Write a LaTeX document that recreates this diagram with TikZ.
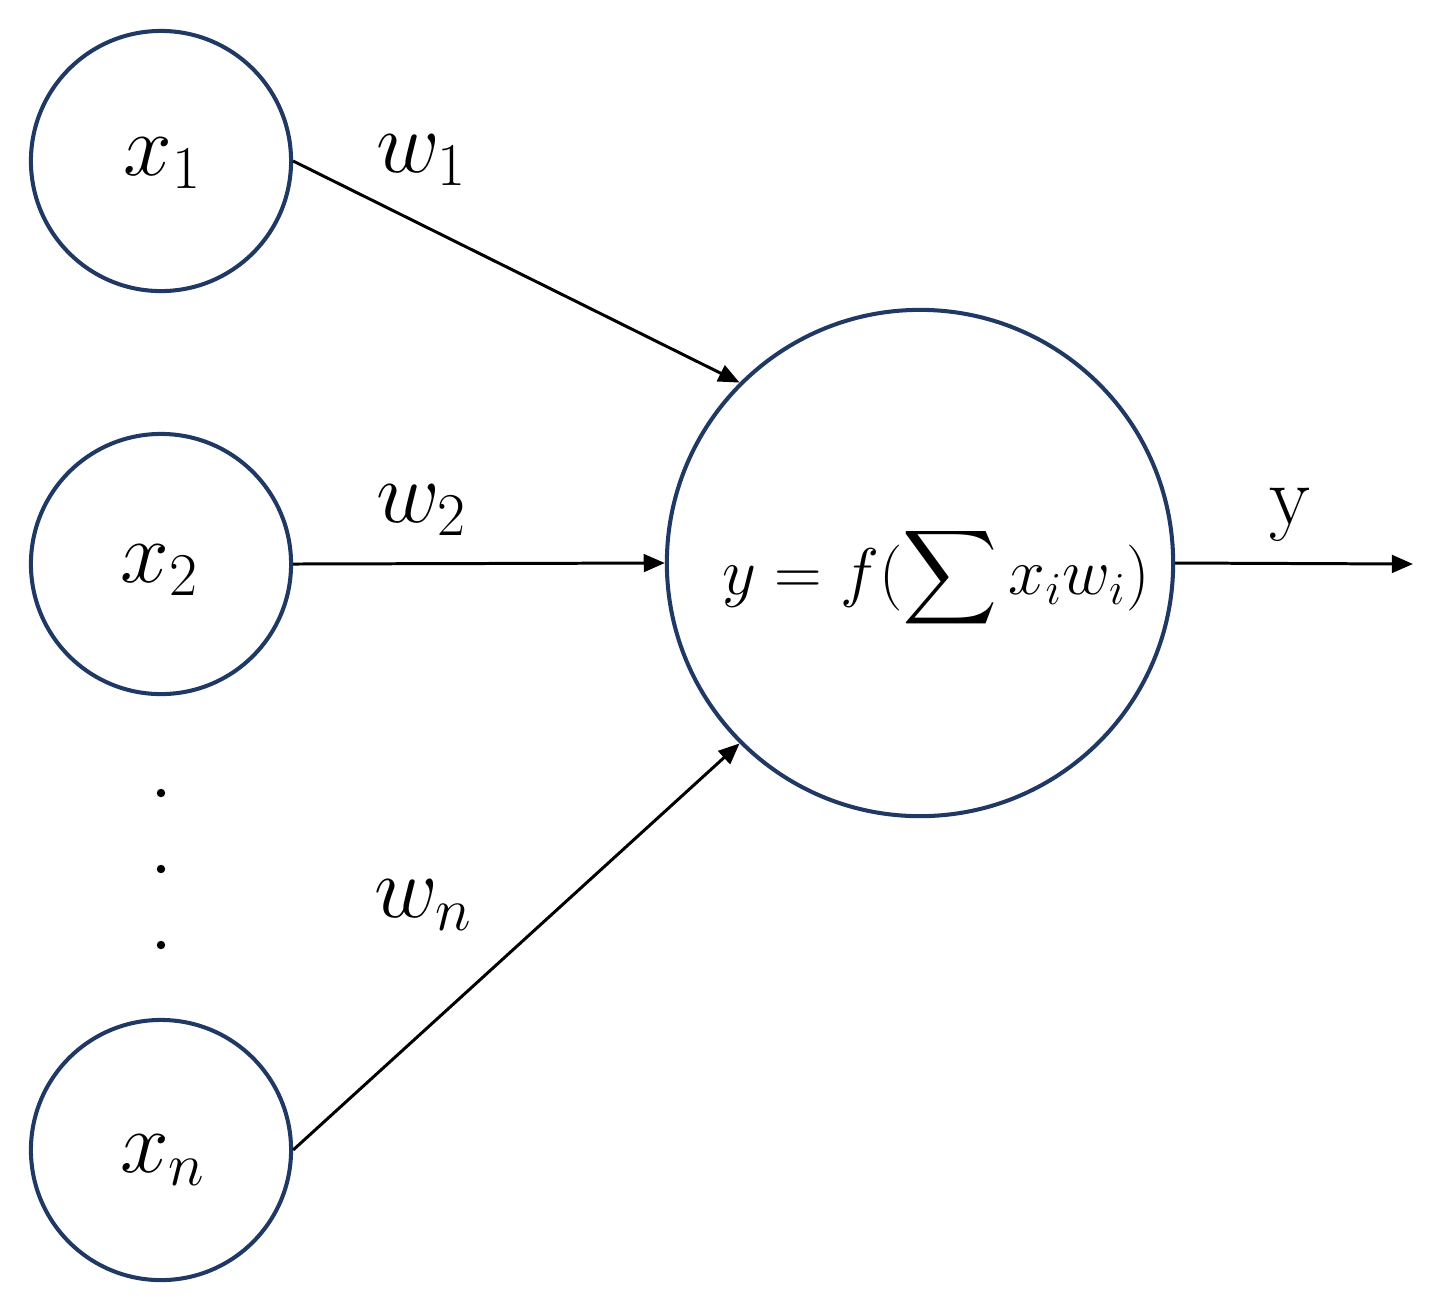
\documentclass[tikz,border=0pt]{standalone}
\usepackage{amsmath}
\usetikzlibrary{arrows.meta}
\definecolor{navy}{HTML}{1F3864}
\begin{document}
\begin{tikzpicture}[x=0.01cm,y=-0.01cm,
  inp/.style={circle,draw=navy,line width=1.15pt,minimum size=2.6cm,inner sep=0pt},
  neuron/.style={circle,draw=navy,line width=1.15pt,minimum size=5.06cm,inner sep=0pt},
  conn/.style={line width=0.85pt,-{Triangle[length=6pt,width=5pt]}},
  lbl/.style={font=\fontsize{24}{28}\selectfont,inner sep=0pt},
  dotn/.style={circle,fill=black,minimum size=2.4pt,inner sep=0pt}]
\useasboundingbox (0,0) rectangle (1446,1311);
\node[inp] (x1) at (161,161) {};
\node[inp] (x2) at (161,564) {};
\node[inp] (xn) at (161,1150) {};
\node[neuron] (f) at (920,563) {};
\node[lbl] (lx1) at (163,163) {$x_1$};
\node[lbl] (lx2) at (160,570) {$x_2$};
\node[lbl] (lxn) at (163,1160) {$x_n$};
\node[font=\fontsize{17.28}{21}\selectfont,inner sep=0pt,scale=1.086] (form) at (936,578) {$\displaystyle y = f(\sum x_i w_i)$};
\node[dotn] (d1) at (161,793) {};
\node[dotn] (d2) at (161,869) {};
\node[dotn] (d3) at (161,945) {};
\coordinate (out) at (1413,564);
\draw[conn] (x1.east) -- (f.135);
\draw[conn] (x2.east) -- (f.west);
\draw[conn] (xn.east) -- (f.225);
\draw[conn] (f.east) -- (out);
\node[lbl] (w1) at (422,160) {$w_1$};
\node[lbl] (w2) at (422,510) {$w_2$};
\node[lbl] (wn) at (424,905) {$w_n$};
\node[lbl] (ylab) at (1290,515) {y};
\end{tikzpicture}
\end{document}
